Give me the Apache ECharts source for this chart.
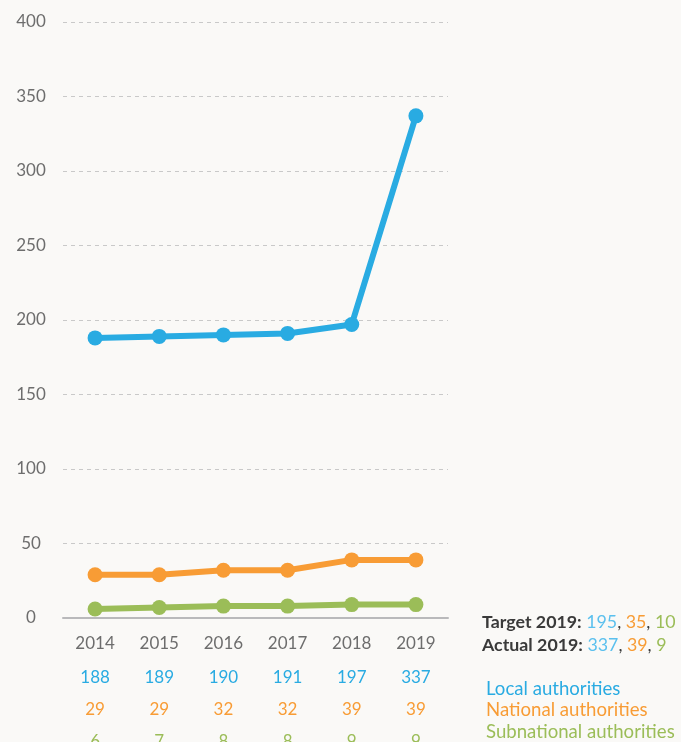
<!DOCTYPE html>
<html>
<head>
<meta charset="utf-8">
<script src="https://cdn.jsdelivr.net/npm/echarts@6/dist/echarts.min.js"></script>
<style>
  html, body { margin: 0; padding: 0; background: #faf9f7; }
  #chart { width: 681px; height: 742px; }
</style>
</head>
<body>
<div id="chart"></div>
<script>
// data
const years = ['2014', '2015', '2016', '2017', '2018', '2019'];
const localAuth = [188, 189, 190, 191, 197, 337];
const nationalAuth = [29, 29, 32, 32, 39, 39];
const subnationalAuth = [6, 7, 8, 8, 9, 9];
const seriesNames = ['Local authorities', 'National authorities', 'Subnational authorities'];
const target2019 = [195, 35, 10];
const actual2019 = [337, 39, 9];

const colors = ['#29abe2', '#f89c35', '#9bbd58'];
const font = 'Lato';

const chart = echarts.init(document.getElementById('chart'));

// value row under the x axis, one per series
function valueRow(values, color, offset) {
    return {
        type: 'category',
        data: years,
        position: 'bottom',
        offset: offset,
        axisLine: { show: false },
        axisTick: { show: false },
        axisLabel: {
            margin: 17,
            color: color,
            fontFamily: font,
            fontSize: 17,
            formatter: function (v, i) { return String(values[i]); }
        }
    };
}

const tf = '17.8px ' + font;
const lf = '18.6px ' + font;

chart.setOption({
    backgroundColor: '#faf9f7',
    animation: false,
    grid: { left: 63, top: 22, width: 385, bottom: 124, outerBoundsMode: 'none' },
    xAxis: [
        {
            type: 'category',
            data: years,
            axisLine: { lineStyle: { color: '#b9b9bb', width: 2 } },
            axisTick: { show: false },
            axisLabel: { margin: 17, color: '#6d6d6d', fontFamily: font, fontSize: 17 }
        },
        valueRow(localAuth, colors[0], 34),
        valueRow(nationalAuth, colors[1], 66),
        valueRow(subnationalAuth, colors[2], 98)
    ],
    yAxis: {
        type: 'value',
        min: 0,
        max: 400,
        interval: 50,
        axisLine: { show: false },
        axisTick: { show: false },
        axisLabel: { margin: 32, align: 'center', color: '#6d6d6d', fontFamily: font, fontSize: 17 },
        splitLine: { lineStyle: { color: '#c9c9c9', type: [4, 4] } }
    },
    series: [localAuth, nationalAuth, subnationalAuth].map(function (d, i) {
        return {
            name: seriesNames[i],
            type: 'line',
            data: d,
            symbol: 'circle',
            symbolSize: 15,
            lineStyle: { width: 6, color: colors[i] },
            itemStyle: { color: colors[i] },
            z: 3 - i
        };
    }),
    graphic: [
        {
            type: 'text',
            left: 482,
            top: 611,
            style: {
                text: '{b|Target 2019:} {c0|' + target2019[0] + '}{k|,} {c1|' + target2019[1] + '}{k|,} {c2|' + target2019[2] + '}\n' +
                      '{b|Actual 2019:} {c0|' + actual2019[0] + '}{k|,} {c1|' + actual2019[1] + '}{k|,} {c2|' + actual2019[2] + '}',
                font: tf,
                lineHeight: 23,
                rich: {
                    b: { font: 'bold ' + tf, fill: '#3a3a3a', lineHeight: 23 },
                    k: { font: tf, fill: '#3a3a3a', lineHeight: 23 },
                    c0: { font: tf, fill: '#5bc0ee', lineHeight: 23 },
                    c1: { font: tf, fill: colors[1], lineHeight: 23 },
                    c2: { font: tf, fill: colors[2], lineHeight: 23 }
                }
            }
        },
        {
            type: 'text',
            left: 486,
            top: 678,
            style: {
                text: seriesNames.map(function (n, i) { return '{s' + i + '|' + n + '}'; }).join('\n'),
                font: lf,
                lineHeight: 21.5,
                rich: {
                    s0: { font: lf, fill: colors[0], lineHeight: 21.5 },
                    s1: { font: lf, fill: colors[1], lineHeight: 21.5 },
                    s2: { font: lf, fill: colors[2], lineHeight: 21.5 }
                }
            }
        }
    ]
});
</script>
</body>
</html>
